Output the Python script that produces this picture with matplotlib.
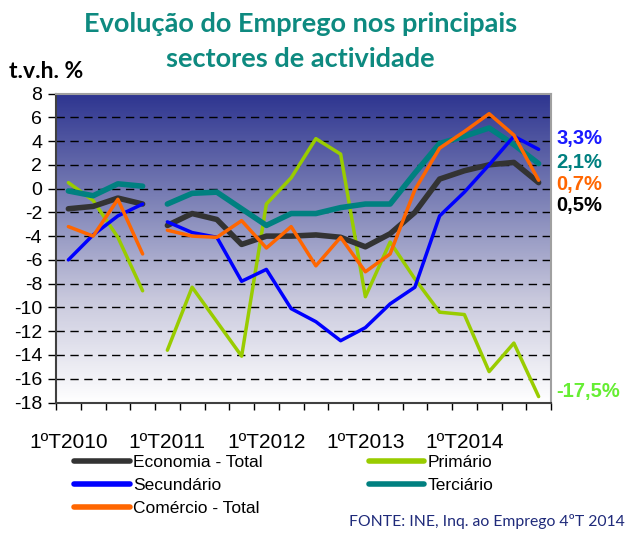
import numpy as np
import matplotlib.pyplot as plt
from matplotlib.colors import LinearSegmentedColormap

# quarters 1T2010 .. 4T2014 (series break between 4T2010 and 1T2011)
quarters = ['1ºT2010', '2ºT2010', '3ºT2010', '4ºT2010',
            '1ºT2011', '2ºT2011', '3ºT2011', '4ºT2011',
            '1ºT2012', '2ºT2012', '3ºT2012', '4ºT2012',
            '1ºT2013', '2ºT2013', '3ºT2013', '4ºT2013',
            '1ºT2014', '2ºT2014', '3ºT2014', '4ºT2014']

economia = [-1.7, -1.5, -0.8, -1.3,
            -3.1, -2.1, -2.6, -4.7,
            -4.0, -4.0, -3.9, -4.1,
            -4.9, -3.8, -2.0, 0.8,
            1.5, 2.0, 2.2, 0.5]
primario = [0.5, -1.0, -4.1, -8.6,
            -13.6, -8.3, -11.2, -14.1,
            -1.3, 0.9, 4.2, 2.9,
            -9.1, -4.5, -7.6, -10.4,
            -10.6, -15.4, -13.0, -17.5]
secundario = [-6.0, -3.9, -2.3, -1.3,
              -2.8, -3.7, -4.1, -7.8,
              -6.8, -10.1, -11.2, -12.8,
              -11.7, -9.7, -8.3, -2.3,
              -0.3, 2.0, 4.4, 3.3]
terciario = [-0.2, -0.6, 0.4, 0.2,
             -1.3, -0.4, -0.3, -1.7,
             -3.1, -2.1, -2.1, -1.6,
             -1.3, -1.3, 1.3, 3.8,
             4.4, 5.1, 3.7, 2.1]
comercio = [-3.2, -4.0, -0.9, -5.5,
            -3.5, -4.0, -4.1, -2.7,
            -5.0, -3.2, -6.5, -4.1,
            -7.0, -5.5, -0.1, 3.4,
            4.8, 6.3, 4.5, 0.7]

last_labels = ['0,5%', '-17,5%', '3,3%', '2,1%', '0,7%']
last_label_y = [-1.4, -17.1, 4.2, 2.2, 0.35]

fig = plt.figure(figsize=(6.3, 5.35), dpi=100)
ax = fig.add_axes([56 / 630, 1 - 402.5 / 535, (551 - 56) / 630, (402.5 - 93.5) / 535])

x = np.arange(len(quarters))
ymin, ymax = -18, 8

# gradient background
grad = LinearSegmentedColormap.from_list('bg', ['#ffffff', '#c9c9dd', '#7a7fb5', '#2e3590'])
ax.imshow(np.linspace(0, 1, 256).reshape(-1, 1), cmap=grad, origin='lower', aspect='auto',
          extent=(-0.5, len(quarters) - 0.5, ymin, ymax), zorder=0)

for g in range(-16, 8, 2):
    ax.axhline(g, color='black', lw=1, ls=(0, (6, 4)), zorder=1)

series = [
    (economia, '#333333', 4.0, 'Economia - Total', 3),
    (primario, '#99cc00', 2.5, 'Primário', 2),
    (secundario, '#0000ff', 2.5, 'Secundário', 4),
    (terciario, '#008080', 4.0, 'Terciário', 3),
    (comercio, '#ff6600', 2.5, 'Comércio - Total', 5),
]

handles = []
for vals, col, lw, name, z in series:
    v = np.array(vals, dtype=float)
    ax.plot(x[:4], v[:4], color=col, lw=lw, solid_capstyle='round', zorder=z)
    h, = ax.plot(x[4:], v[4:], color=col, lw=lw, solid_capstyle='round', zorder=z, label=name)
    handles.append(h)

ax.set_xlim(-0.5, len(quarters) - 0.5)
ax.set_ylim(ymin, ymax)
ax.set_yticks(np.arange(-18, 9, 2))
ax.set_yticklabels([str(t) for t in range(-18, 9, 2)], fontsize=14, family='Liberation Sans')
ax.set_xticks(np.arange(-0.5, len(quarters), 1))
ax.set_xticklabels([])
ax.set_xticks(x[::4], minor=True)
ax.set_xticklabels(quarters[::4], minor=True, fontsize=15, family='Liberation Sans')
ax.tick_params(axis='x', which='minor', length=0, pad=22)
ax.tick_params(axis='x', which='major', length=5, direction='out', width=1)
ax.tick_params(axis='y', length=6, width=1, pad=4)

for s in ['top', 'right']:
    ax.spines[s].set_color('#a0a0a0')
    ax.spines[s].set_linewidth(1.5)
for s in ['left', 'bottom']:
    ax.spines[s].set_color('#404040')
    ax.spines[s].set_linewidth(1.5)

# end labels
end_cols = ['#000000', '#66ee33', '#1a1aff', '#008080', '#ff6600']
for lab, yy, c in zip(last_labels, last_label_y, end_cols):
    ax.text(len(quarters) - 0.5 + 0.22, yy, lab, color=c, fontsize=14.5, fontweight='bold',
            family='Liberation Sans', va='center', ha='left', clip_on=False)

fig.text(0.477, 0.955, 'Evolução do Emprego nos principais', ha='center', va='center',
         fontsize=19.5, fontweight='bold', color='#0e8a80', family='Lato')
fig.text(0.477, 0.889, 'sectores de actividade', ha='center', va='center',
         fontsize=19.5, fontweight='bold', color='#0e8a80', family='Lato')
fig.text(0.015, 0.866, 't.v.h. %', ha='left', va='center', fontsize=16.5,
         fontweight='bold', color='black', family='Lato')

order = [handles[0], handles[2], handles[4], handles[1], handles[3]]
leg = fig.legend(order, [h.get_label() for h in order], ncol=2, loc='upper left',
                 bbox_to_anchor=(0.118, 0.149), frameon=False,
                 handlelength=3.2, handletextpad=0.2, columnspacing=6.1,
                 labelspacing=0.45, borderaxespad=0, borderpad=0,
                 prop={'family': 'Liberation Sans', 'size': 12.5})
for lh in leg.get_lines():
    lh.set_linewidth(4)
    lh.set_solid_capstyle('round')

fig.text(0.992, 0.012, 'FONTE: INE, Inq. ao Emprego 4ºT 2014', ha='right', va='bottom',
         fontsize=11.3, color='#1f2a7a', family='Lato')

fig.savefig('out.png', dpi=100)
